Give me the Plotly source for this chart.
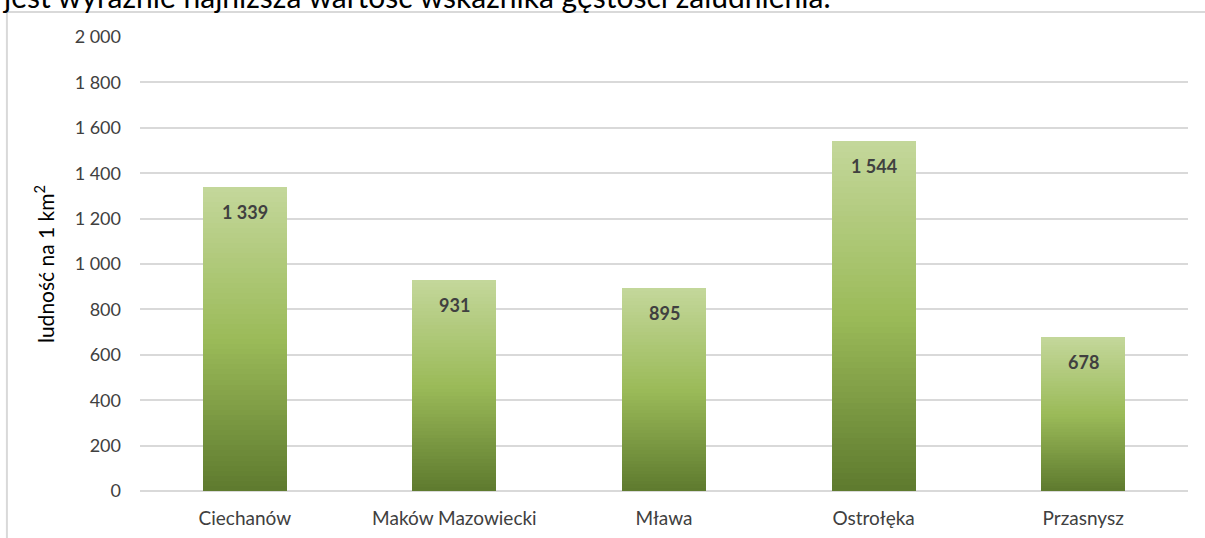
import plotly.graph_objects as go

miasta = ['Ciechanów', 'Maków Mazowiecki', 'Mława', 'Ostrołęka', 'Przasnysz']
gestosc = [1339, 931, 895, 1544, 678]

tick_vals = [0, 200, 400, 600, 800, 1000, 1200, 1400, 1600, 1800, 2000]
tick_text = ['0', '200', '400', '600', '800', '1 000', '1 200', '1 400', '1 600', '1 800', '2 000']

# gradient stops of the bars: bottom -> middle -> top
dol = (94, 122, 46)
srodek = (155, 187, 89)
gora = (196, 215, 155)
N = 60


def mix(a, b, t):
    return 'rgb(%d,%d,%d)' % tuple(round(a[i] + (b[i] - a[i]) * t) for i in range(3))


def kolor(f):
    if f < 0.5:
        return mix(dol, srodek, f / 0.5)
    return mix(srodek, gora, (f - 0.5) / 0.5)


fig = go.Figure()

# each bar is drawn as a stack of thin slices to fake the vertical gradient
for k in range(N):
    fig.add_trace(go.Bar(
        x=miasta,
        y=[v / N for v in gestosc],
        marker=dict(color=kolor((k + 0.5) / N), line=dict(width=0)),
        hoverinfo='skip',
        showlegend=False,
    ))

for m, v in zip(miasta, gestosc):
    fig.add_annotation(x=m, y=v, yshift=-25, showarrow=False,
                       text='<b>' + f'{v:,}'.replace(',', ' ') + '</b>',
                       font=dict(size=18, color='#404040'))

# frame of the chart area and the cut-off sentence above it
fig.add_shape(type='line', xref='paper', yref='paper', x0=-0.127, x1=1.1, y0=1.055, y1=1.055,
              line=dict(color='#d9d9d9', width=2))
fig.add_shape(type='line', xref='paper', yref='paper', x0=-0.127, x1=-0.127, y0=1.055, y1=-0.2,
              line=dict(color='#d9d9d9', width=2))
fig.add_annotation(xref='paper', yref='paper', x=-0.1336, y=1.091, xanchor='left', yanchor='middle',
                   showarrow=False, text='jest wyraźnie najniższa wartość wskaźnika gęstości zaludnienia.',
                   font=dict(size=30, color='#000000'))

fig.update_layout(
    barmode='stack',
    bargap=0.6,
    width=1205,
    height=538,
    margin=dict(l=140, r=17, t=37, b=47),
    paper_bgcolor='white',
    plot_bgcolor='white',
    font=dict(family='Lato', size=18, color='#404040'),
    xaxis=dict(showline=False, ticks='', ticklabelstandoff=14, automargin=False,
               tickfont=dict(size=19, color='#404040')),
    yaxis=dict(
        range=[0, 2000],
        tickvals=tick_vals,
        ticktext=tick_text,
        automargin=False,
        showgrid=True,
        gridcolor='#d9d9d9',
        gridwidth=1.5,
        zeroline=True,
        zerolinecolor='#d9d9d9',
        zerolinewidth=1.5,
        ticklabelstandoff=18,
        tickfont=dict(size=18, color='#404040'),
        title=dict(text='ludność na 1 km<sup>2</sup>', font=dict(size=21, color='#000000'), standoff=14),
    ),
)

fig.write_html('out.html', config={'displayModeBar': False},
               post_script="document.body.style.margin='0';")
